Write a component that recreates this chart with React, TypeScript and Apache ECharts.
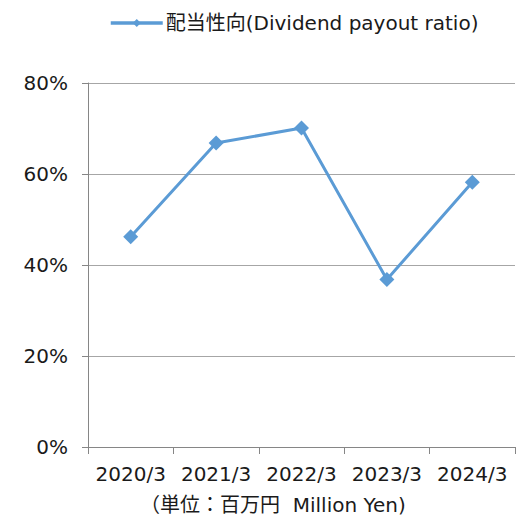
import React, { useEffect, useRef } from "react";
import * as echarts from "echarts";

const categories = ["2020/3", "2021/3", "2022/3", "2023/3", "2024/3"];
const payoutRatio = [46.2, 66.8, 70.1, 36.8, 58.2];
const yTicks = [0, 20, 40, 60, 80];
const seriesName = "配当性向(Dividend payout ratio)";
const unitNote = "（単位：百万円  Million Yen)";

const FONT = "'DejaVu Sans', 'Noto Sans CJK JP', sans-serif";
const TEXT = "#1a1a1a";
const BLUE = "#5B9BD5";

export default function App() {
  const ref = useRef<HTMLDivElement>(null);
  useEffect(() => {
    if (!ref.current) return;
    const chart = echarts.init(ref.current, null, { renderer: "svg" });
    chart.setOption({
      animation: false,
      backgroundColor: "#ffffff",
      textStyle: { fontFamily: FONT },
      legend: {
        left: 104,
        top: 8,
        itemWidth: 52,
        itemHeight: 10,
        itemGap: 4,
        lineStyle: { width: 3.5, color: BLUE },
        textStyle: { fontFamily: FONT, fontSize: 20, color: TEXT, padding: [0, 0, 0, -2] },
        data: [{ name: seriesName }],
      },
      grid: { left: 88, right: 1, top: 83, bottom: 74, containLabel: false },
      xAxis: {
        type: "category",
        data: categories,
        boundaryGap: true,
        axisLine: { lineStyle: { color: "#868686", width: 1 } },
        axisTick: { show: true, length: 7, lineStyle: { color: "#868686" } },
        axisLabel: { fontFamily: FONT, fontSize: 20, color: TEXT, margin: 17, interval: 0 },
      },
      yAxis: {
        type: "value",
        min: yTicks[0],
        max: yTicks[yTicks.length - 1],
        interval: 20,
        axisLine: { show: true, lineStyle: { color: "#868686", width: 1 } },
        axisTick: { show: true, length: 6, lineStyle: { color: "#868686" } },
        splitLine: { show: true, lineStyle: { color: "#A6A6A6", width: 1 } },
        axisLabel: {
          fontFamily: FONT,
          fontSize: 20,
          color: TEXT,
          margin: 20,
          formatter: (v: number) => `${v}%`,
        },
      },
      series: [
        {
          name: seriesName,
          type: "line",
          data: payoutRatio,
          symbol: "diamond",
          symbolSize: 15,
          lineStyle: { color: BLUE, width: 3 },
          itemStyle: { color: BLUE },
        },
      ],
      graphic: [
        {
          type: "text",
          left: 140,
          top: 495,
          style: { text: unitNote, font: `20px ${FONT}`, fill: TEXT },
        },
      ],
    });
    return () => chart.dispose();
  }, []);
  return (
    <div
      ref={ref}
      style={{ position: "absolute", left: 0, top: 0, width: 516, height: 521 }}
    />
  );
}
